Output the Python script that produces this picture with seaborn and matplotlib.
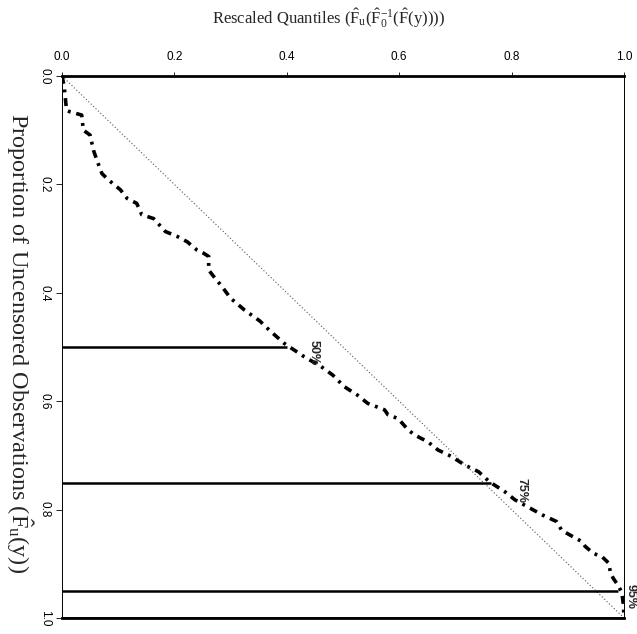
import numpy as np
import pandas as pd
import matplotlib
matplotlib.use("Agg")
import matplotlib.pyplot as plt
import seaborn as sns

# ---- data ----
rescaled_q = [0.0, 0.004, 0.008, 0.014, 0.035, 0.038, 0.05, 0.056, 0.062, 0.071, 0.083,
              0.104, 0.116, 0.133, 0.142, 0.163, 0.184, 0.205, 0.223, 0.24, 0.252,
              0.261, 0.261, 0.27, 0.285, 0.30, 0.325, 0.352, 0.37, 0.395, 0.431,
              0.461, 0.482, 0.502, 0.526, 0.544, 0.574, 0.58, 0.598, 0.616, 0.627,
              0.651, 0.669, 0.693, 0.717, 0.741, 0.761, 0.788, 0.806, 0.82, 0.855,
              0.88, 0.889, 0.904, 0.925, 0.931, 0.946, 0.961, 0.973, 0.976, 0.981,
              0.987, 0.996, 0.999, 1.0]
prop_uncens = [0.0, 0.02, 0.063, 0.066, 0.072, 0.10, 0.109, 0.137, 0.155, 0.18, 0.192,
               0.21, 0.226, 0.235, 0.256, 0.263, 0.287, 0.296, 0.306, 0.321, 0.327,
               0.333, 0.358, 0.37, 0.389, 0.41, 0.432, 0.452, 0.47, 0.493, 0.518,
               0.536, 0.552, 0.573, 0.589, 0.604, 0.616, 0.625, 0.632, 0.653, 0.662,
               0.675, 0.69, 0.702, 0.718, 0.73, 0.749, 0.767, 0.782, 0.79, 0.81,
               0.822, 0.838, 0.847, 0.859, 0.868, 0.881, 0.887, 0.899, 0.917, 0.927,
               0.936, 0.952, 0.976, 1.0]

ref_x = [0.0, 1.0]
ref_y = [0.0, 1.0]

pct_levels = [0.50, 0.75, 0.95, 1.00]
pct_ends = [0.40, 0.764, 0.99, 1.00]
pct_labels = ["50%", "75%", "95%", ""]

x_ticks = [0.0, 0.2, 0.4, 0.6, 0.8, 1.0]
y_ticks = [0.0, 0.2, 0.4, 0.6, 0.8, 1.0]

# ---- style ----
sns.set_theme(style="white")
plt.rcParams["font.family"] = ["Liberation Serif", "DejaVu Serif"]
plt.rcParams["mathtext.fontset"] = "custom"
plt.rcParams["mathtext.rm"] = "Liberation Serif"
plt.rcParams["mathtext.it"] = "Liberation Serif"
plt.rcParams["mathtext.default"] = "regular"

SANS = ["Liberation Sans", "DejaVu Sans"]

fig = plt.figure(figsize=(6.37, 6.34), dpi=100)
ax = fig.add_axes([62 / 637, 1 - 618 / 634, (624 - 62) / 637, (618 - 76) / 634])

df = pd.DataFrame({"x": rescaled_q, "y": prop_uncens})
sns.lineplot(data=df, x="x", y="y", ax=ax, sort=False, estimator=None,
             color="black", lw=2.6, linestyle=(0, (2.2, 1.6, 0.8, 1.6)))
sns.lineplot(x=ref_x, y=ref_y, ax=ax, color="#555555", lw=0.8,
             linestyle=(0, (1, 2)), sort=False, estimator=None)

ax.hlines(pct_levels, 0, pct_ends, color="black", lw=1.8)
offsets = [(19, -4), (22, -6), (9, -4), (0, 0)]
for lev, end, lab, off in zip(pct_levels, pct_ends, pct_labels, offsets):
    if lab:
        ax.annotate(lab, xy=(end, lev), xytext=off, textcoords="offset points",
                    rotation=-90, ha="center", va="center", fontsize=9,
                    family=SANS, fontweight="bold", annotation_clip=False)

ax.set_xlim(0, 1)
ax.set_ylim(1, 0)
ax.xaxis.tick_top()
ax.set_xticks(x_ticks)
ax.set_yticks(y_ticks)
ax.set_xticklabels([f"{v:.1f}" for v in x_ticks], family=SANS, fontsize=8.5)
ax.set_yticklabels([f"{v:.1f}" for v in y_ticks], family=SANS, fontsize=8.5,
                   rotation=-90, va="center")
ax.tick_params(axis="x", top=True, bottom=False, direction="out", length=3, width=0.6, pad=6, colors="black")
ax.tick_params(axis="y", left=True, direction="out", length=4, width=0.6, pad=4, colors="black")
ax.set_xlabel("")
ax.set_ylabel("")

for side, w in [("top", 2.0), ("bottom", 2.0), ("left", 0.7), ("right", 0.7)]:
    ax.spines[side].set_visible(True)
    ax.spines[side].set_color("black")
    ax.spines[side].set_linewidth(w)

fig.text(328 / 637, 1 - 18 / 634,
         r"Rescaled Quantiles $(\hat{F}_{u}(\hat{F}_{0}^{-1}(\hat{F}(y))))$",
         ha="center", va="center", fontsize=12)
fig.text(19 / 637, 1 - 343 / 634,
         r"Proportion of Uncensored Observations $(\hat{F}_{u}(y))$",
         ha="center", va="center", rotation=-90, fontsize=17.5)

fig.savefig("out.png", dpi=100, facecolor="white")
